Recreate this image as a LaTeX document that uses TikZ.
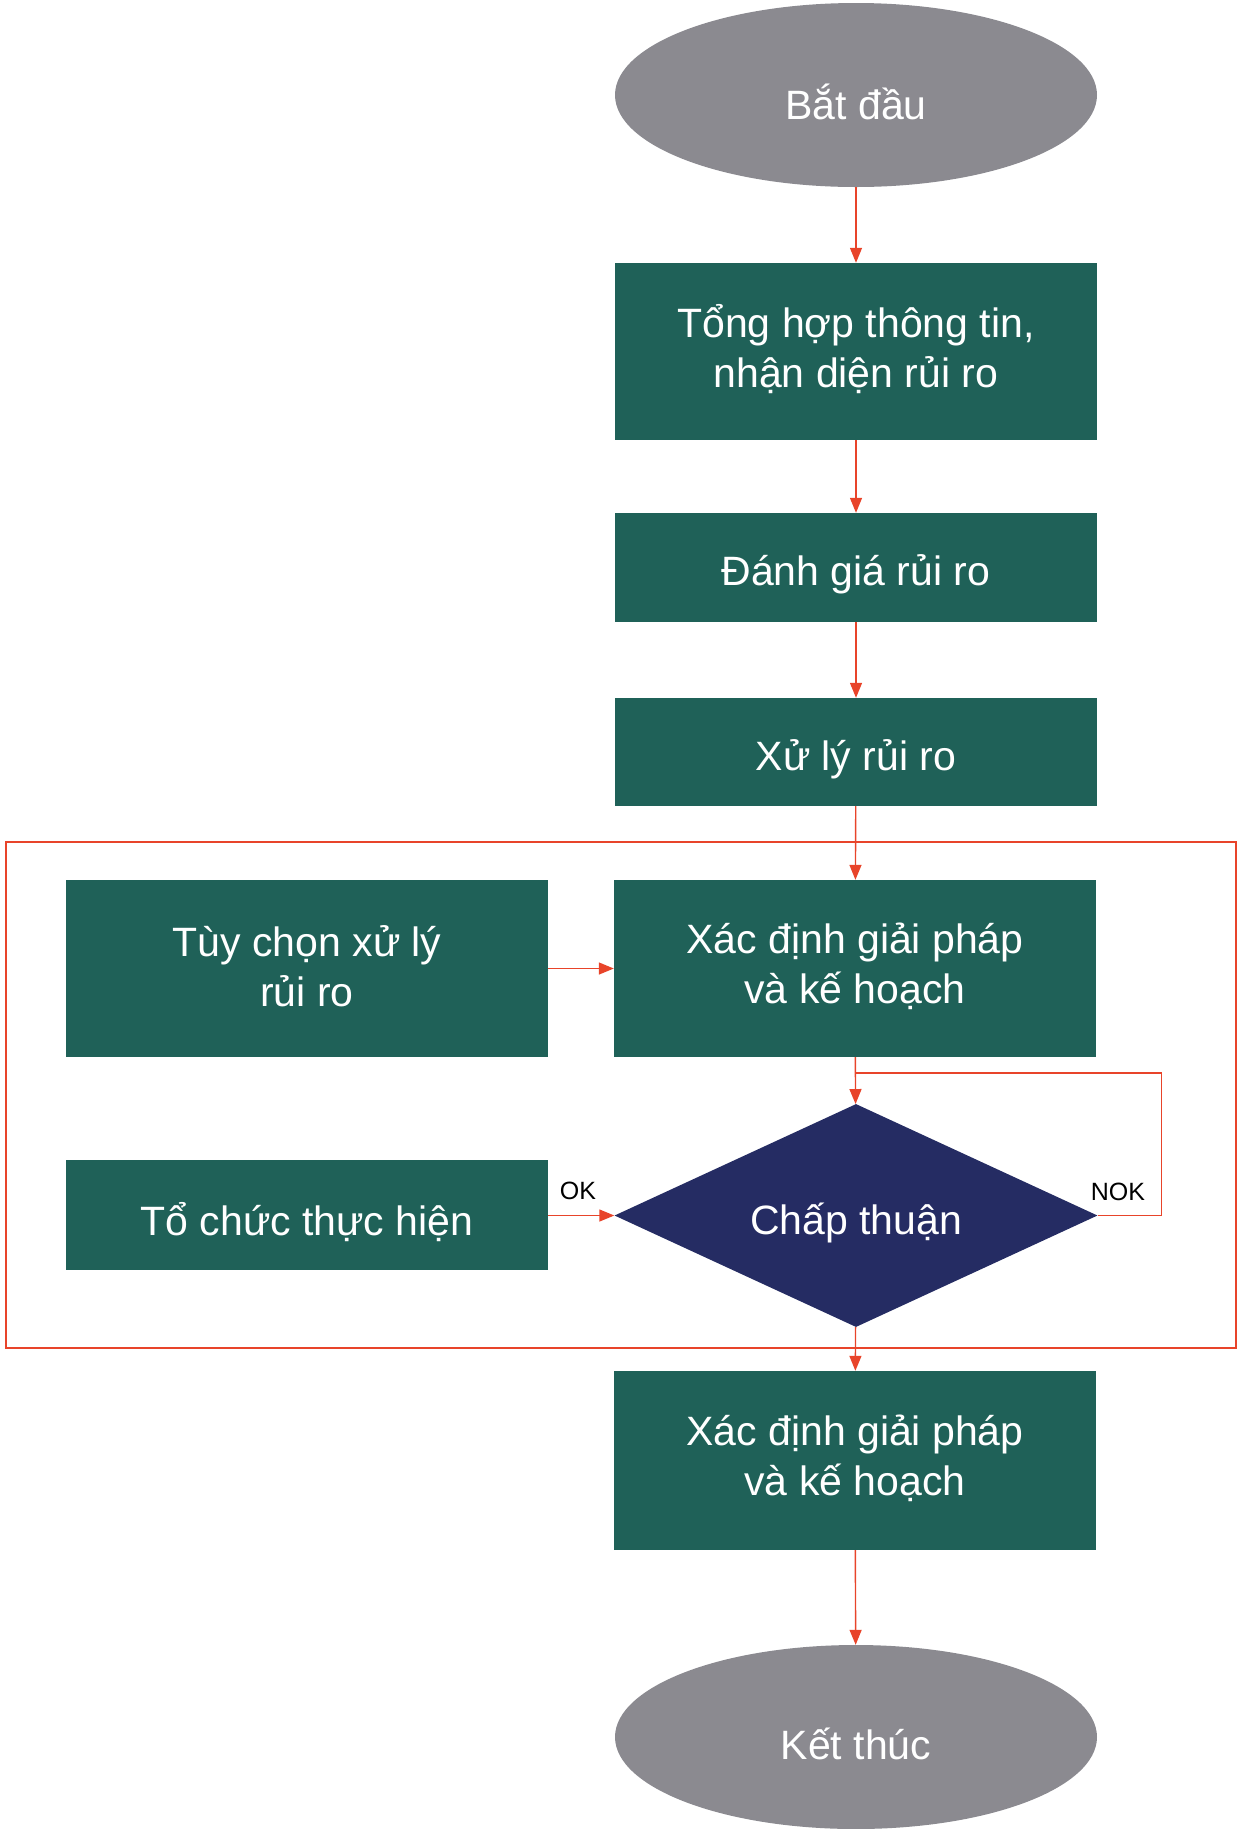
\documentclass[tikz,border=0pt]{standalone}
\usepackage{fontspec}
\setmainfont{Liberation Sans}
\usetikzlibrary{shapes.geometric,arrows.meta}
\definecolor{boxgreen}{HTML}{1F6158}
\definecolor{termgray}{HTML}{8B8A90}
\definecolor{decnavy}{HTML}{252C63}
\definecolor{flowred}{HTML}{E8442A}
\tikzset{
  boxtext/.style={text=white, inner sep=0pt, align=center,
    font=\fontsize{41}{50}\selectfont},
  stepbox/.style={rectangle, fill=boxgreen, inner sep=0pt, minimum width=482pt},
  terminal/.style={ellipse, fill=termgray, inner sep=0pt,
    minimum width=482pt, minimum height=184pt},
  decision/.style={diamond, fill=decnavy, inner sep=0pt,
    minimum width=483pt, minimum height=223pt},
  % one-line and two-line captions sit at slightly different offsets
  caption/.style={label={[boxtext, yshift=-7pt]center:{#1}}},
  caption2/.style={label={[boxtext, yshift=2pt]center:{#1}}},
  flow/.style={draw=flowred, line width=1.4pt,
    -{Triangle[length=15pt,width=12pt]}},
  link/.style={draw=flowred, line width=1.4pt},
  tag/.style={font=\fontsize{25}{28}\selectfont, text=black, inner sep=0pt}
}
\begin{document}
\begin{tikzpicture}[x=1pt,y=-1pt]
  \useasboundingbox (0,0) rectangle (1237,1829);

  % group frame around the approval loop
  \draw[flowred, line width=1.2pt] (6,842) rectangle (1236,1348);

  % main column
  \node[terminal, caption={Bắt đầu}] (start) at (856,95) {};
  \node[stepbox, minimum height=177pt,
    caption2={Tổng hợp thông tin,\\nhận diện rủi ro}] (collect) at (856,351.5) {};
  \node[stepbox, minimum height=109pt, caption={Đánh giá rủi ro}] (assess) at (856,567.5) {};
  \node[stepbox, minimum height=108pt, caption={Xử lý rủi ro}] (treat) at (856,752) {};
  \node[stepbox, minimum height=177pt,
    caption2={Xác định giải pháp\\và kế hoạch}] (plan) at (855,968.5) {};
  \node[decision, caption={Chấp thuận}] (approve) at (856,1215.5) {};
  \node[stepbox, minimum height=179pt,
    caption2={Xác định giải pháp\\và kế hoạch}] (plan2) at (855,1460.5) {};
  \node[terminal, caption={Kết thúc}] (finish) at (856,1737) {};

  % side column
  \node[stepbox, minimum height=177pt,
    caption2={Tùy chọn xử lý\\rủi ro}] (options) at (307,968.5) {};
  \node[stepbox, minimum height=110pt, caption={Tổ chức thực hiện}] (execute) at (307,1215) {};

  % connectors
  \draw[flow] (start) -- (collect);
  \draw[flow] (collect) -- (assess);
  \draw[flow] (assess) -- (treat);
  \draw[flow] (treat) -- (plan);
  \draw[flow] (options) -- (plan);
  \draw[flow] (plan) -- (approve);
  \coordinate (rejoin) at (856,1073);
  \draw[link] (approve.east) -- ++(64,0) |- (rejoin);
  \draw[flow] (execute.east |- approve.west) -- (approve.west);
  \draw[flow] (approve) -- (plan2);
  \draw[flow] (plan2) -- (finish);

  % branch labels
  \node[tag] (ok) at (578,1191) {OK};
  \node[tag] (nok) at (1118,1192) {NOK};
\end{tikzpicture}
\end{document}
